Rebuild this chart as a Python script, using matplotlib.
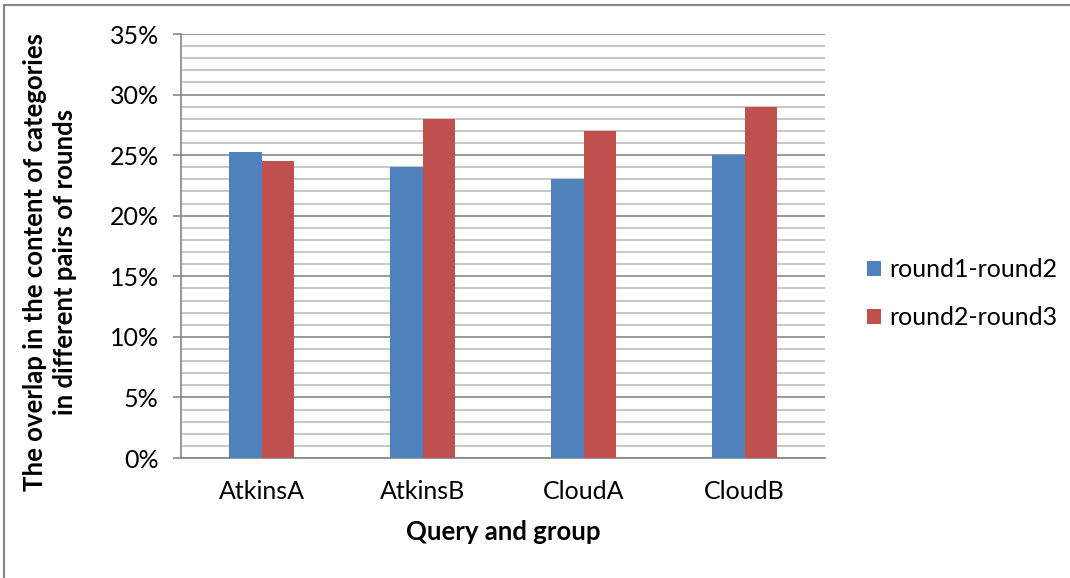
import matplotlib
matplotlib.use('Agg')
import matplotlib.pyplot as plt
from matplotlib.patches import Rectangle
from matplotlib.ticker import MultipleLocator, FuncFormatter
import numpy as np

categories = ['AtkinsA', 'AtkinsB', 'CloudA', 'CloudB']
round1_round2 = [25.3, 24.0, 23.0, 25.0]
round2_round3 = [24.5, 28.0, 27.0, 29.0]
series_names = ['round1-round2', 'round2-round3']
colors = ['#4f81bd', '#c0504d']

plt.rcParams['font.family'] = ['Lato', 'DejaVu Sans']

W, H = 1070, 578
fig = plt.figure(figsize=(W / 100, H / 100), dpi=100)
ax = fig.add_axes([181 / W, 1 - 458 / H, 644 / W, 424 / H])

# outer chart border (only top and left edges show)
fig.add_artist(Rectangle((4 / W, -0.1), 1.2, 1 - 5 / H + 0.1,
                         transform=fig.transFigure, fill=False,
                         edgecolor='#868686', linewidth=1.5))

x = np.arange(len(categories))
w = 0.2
ax.bar(x - w / 2, round1_round2, w, color=colors[0], label=series_names[0], zorder=3)
ax.bar(x + w / 2, round2_round3, w, color=colors[1], label=series_names[1], zorder=3)

ax.set_xlim(-0.5, len(categories) - 0.5)
ax.set_ylim(0, 35)
ax.yaxis.set_major_locator(MultipleLocator(5))
ax.yaxis.set_minor_locator(MultipleLocator(1))
ax.yaxis.set_major_formatter(FuncFormatter(lambda v, p: '{:.0f}%'.format(v)))
ax.grid(which='major', axis='y', color='#868686', linewidth=1.2, zorder=1)
ax.grid(which='minor', axis='y', color='#bfbfbf', linewidth=1.2, zorder=1)

ax.set_xticks(x)
ax.set_xticklabels(categories)
ax.tick_params(axis='x', length=0, labelsize=18, pad=16)
ax.tick_params(axis='y', which='major', length=6, width=1.2, color='#868686',
               labelsize=18, pad=10)
ax.tick_params(axis='y', which='minor', length=0)

for side in ['top', 'right']:
    ax.spines[side].set_visible(False)
for side in ['left', 'bottom']:
    ax.spines[side].set_color('#868686')
    ax.spines[side].set_linewidth(1.2)

fig.text(503 / W, 1 - 532 / H, 'Query and group', fontsize=18.5,
         fontweight='bold', ha='center', va='center')
fig.text(50 / W, 1 - 262 / H,
         'The overlap in the content of categories\nin different pairs of rounds',
         fontsize=18.5, fontweight='bold', rotation=90, ha='center',
         va='center', multialignment='center', linespacing=1.3)

ax.legend(loc='center left', bbox_to_anchor=(1.031, 0.388), frameon=False,
          fontsize=18, handlelength=0.56, handleheight=0.56, handletextpad=0.3,
          labelspacing=1.0)

fig.savefig('out.png', dpi=100)
